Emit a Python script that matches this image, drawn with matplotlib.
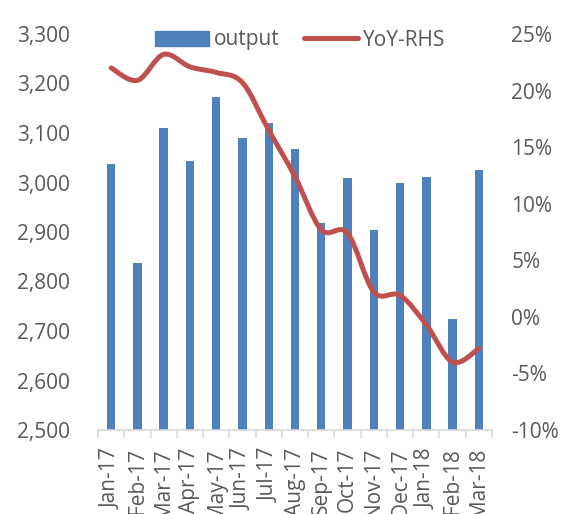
import numpy as np
import matplotlib.pyplot as plt
from matplotlib.path import Path
from matplotlib.patches import PathPatch
from matplotlib.lines import Line2D
from matplotlib.ticker import FuncFormatter

plt.rcParams['font.family'] = ['Open Sans', 'DejaVu Sans']

months = ['Jan-17', 'Feb-17', 'Mar-17', 'Apr-17', 'May-17', 'Jun-17', 'Jul-17',
          'Aug-17', 'Sep-17', 'Oct-17', 'Nov-17', 'Dec-17', 'Jan-18', 'Feb-18', 'Mar-18']
output = [3037, 2837, 3111, 3043, 3172, 3090, 3120, 3067, 2919, 3010, 2905, 3000, 3012, 2724, 3026]
yoy = [22.0, 20.9, 23.2, 22.1, 21.6, 20.7, 16.5, 12.4, 7.7, 7.4, 2.2, 1.9, -0.7, -4.0, -2.8]

blue = '#4f81bd'
red = '#c0504d'
grey_txt = '#595959'


def smooth_path(xs, ys):
    # excel-style smoothed line: catmull-rom turned into bezier segments
    xs = np.asarray(xs, float)
    ys = np.asarray(ys, float)
    n = len(xs)
    verts = [(xs[0], ys[0])]
    codes = [Path.MOVETO]
    for i in range(n - 1):
        p0 = (xs[max(i - 1, 0)], ys[max(i - 1, 0)])
        p1 = (xs[i], ys[i])
        p2 = (xs[i + 1], ys[i + 1])
        p3 = (xs[min(i + 2, n - 1)], ys[min(i + 2, n - 1)])
        c1 = (p1[0] + (p2[0] - p0[0]) / 6, p1[1] + (p2[1] - p0[1]) / 6)
        c2 = (p2[0] - (p3[0] - p1[0]) / 6, p2[1] - (p3[1] - p1[1]) / 6)
        verts += [c1, c2, p2]
        codes += [Path.CURVE4] * 3
    return Path(verts, codes)


fig = plt.figure(figsize=(5.69, 5.14), dpi=100)
ax = fig.add_axes([98 / 569, 1 - 430 / 514, 394 / 569, 396 / 514])

x = np.arange(len(months))
ax.bar(x, output, width=0.32, color=blue, zorder=2)
ax.set_xlim(-0.5, len(months) - 0.5)
ax.set_ylim(2500, 3300)
ax.set_yticks(np.arange(2500, 3301, 100))
ax.yaxis.set_major_formatter(FuncFormatter(lambda v, p: f'{int(v):,}'))

ax.set_xticks(x)
ax.set_xticklabels(months, rotation=90)
ax.set_xticks(np.arange(-0.5, len(months), 1), minor=True)
ax.tick_params(axis='x', which='major', length=0, pad=13, labelsize=15, labelcolor=grey_txt)
ax.tick_params(axis='x', which='minor', length=6, color='#d9d9d9', width=1.2)
ax.tick_params(axis='y', length=0, pad=20, labelsize=15, labelcolor=grey_txt)
for s in ['left', 'right', 'top']:
    ax.spines[s].set_visible(False)
ax.spines['bottom'].set_color('#d9d9d9')
ax.spines['bottom'].set_linewidth(1.2)

ax2 = ax.twinx()
ax2.set_ylim(-10, 25)
ax2.set_yticks(np.arange(-10, 26, 5))
ax2.yaxis.set_major_formatter(FuncFormatter(lambda v, p: f'{int(v)}%'))
ax2.tick_params(axis='y', length=0, pad=14, labelsize=15, labelcolor=grey_txt)
for s in ['left', 'right', 'top', 'bottom']:
    ax2.spines[s].set_visible(False)
ax2.add_patch(PathPatch(smooth_path(x, yoy), facecolor='none', edgecolor=red,
                        lw=3.6, capstyle='round', joinstyle='round', zorder=3))

handles = [plt.Rectangle((0, 0), 1, 1, color=blue),
           Line2D([0], [0], color=red, lw=3.6, solid_capstyle='round')]
leg = fig.legend(handles, ['output', 'YoY-RHS'], loc='center', bbox_to_anchor=(300 / 569, 1 - 40 / 514),
                 ncol=2, frameon=False, fontsize=15, handlelength=2.6, handletextpad=0.2,
                 columnspacing=1.2)
for t in leg.get_texts():
    t.set_color(grey_txt)

fig.savefig('out.png', dpi=100)
